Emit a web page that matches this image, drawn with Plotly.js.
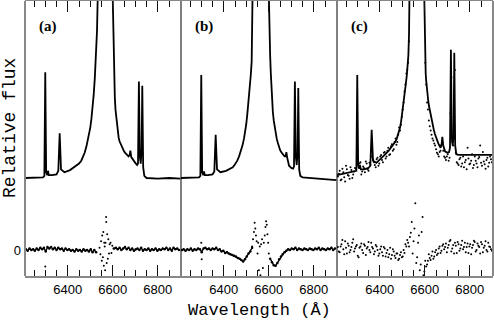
<!DOCTYPE html>
<html>
<head>
<meta charset="utf-8">
<script src="https://cdn.plot.ly/plotly-3.0.1.min.js"></script>
<style>body{margin:0;background:#fff}#plot{width:494px;height:321px}</style>
</head>
<body>
<div id="plot"></div>
<script>
// model spectrum grid (Angstrom) and fitted flux for each panel
let modelWave = [6210,6250,6290,6296,6300,6304,6309,6312,6316,6330,
  6350,6358,6364,6370,6385,6410,6425,6440,6450,6460,
  6468,6475,6483,6490,6495,6500,6505,6510,6515,6520,
  6524,6527,6530,6533,6545,6563,6583,6597,6600,6602,
  6604,6606,6609,6612,6615,6618,6622,6626,6630,6635,
  6640,6645,6650,6655,6660,6670,6675,6678,6682,6690,
  6700,6708,6712,6716,6720,6724,6728,6731,6735,6740,
  6750,6800,6850,6900]
let fluxA = [1.0,1.0,1.01,1.03,2.47,1.08,1.04,1.1,1.04,1.04,
  1.05,1.1,1.62,1.12,1.08,1.11,1.14,1.17,1.2,1.24,
  1.29,1.35,1.44,1.53,1.6,1.7,1.82,1.97,2.15,2.38,
  2.6,2.8,3.05,3.5,6,12,6,3.75,3.3,3.0,
  2.78,2.45,2.12,1.95,1.84,1.74,1.64,1.56,1.51,1.47,
  1.43,1.4,1.37,1.35,1.33,1.3,1.32,1.38,1.29,1.25,
  1.21,1.18,1.2,2.34,1.3,1.2,1.4,2.28,1.15,1.03,
  1.0,0.99,1.0,0.99]
let fluxB = [1.0,1.0,1.01,1.03,2.43,1.08,1.04,1.09,1.04,1.04,
  1.05,1.09,1.6,1.12,1.08,1.1,1.12,1.15,1.19,1.24,
  1.3,1.36,1.45,1.55,1.64,1.75,1.9,2.05,2.23,2.43,
  2.62,2.92,3.2,3.6,6,12,6,3.8,3.35,3.1,
  2.92,2.7,2.45,2.22,2.05,1.92,1.8,1.71,1.63,1.55,
  1.49,1.43,1.39,1.36,1.34,1.3,1.3,1.36,1.28,1.17,
  1.14,1.13,1.16,2.34,1.3,1.18,1.35,2.25,1.12,1.03,
  1.01,1.0,0.99,0.97]
let fluxC = [1.04,1.07,1.09,1.1,2.43,1.18,1.13,1.18,1.12,1.12,
  1.14,1.17,1.67,1.24,1.21,1.28,1.33,1.38,1.42,1.46,
  1.5,1.54,1.61,1.7,1.79,1.9,2.02,2.15,2.29,2.42,
  2.55,2.7,3.0,3.4,6,12,6,3.5,2.78,2.6,
  2.45,2.36,2.22,2.14,2.08,2.01,1.94,1.86,1.8,1.73,
  1.67,1.61,1.56,1.52,1.48,1.42,1.48,1.57,1.45,1.37,
  1.35,1.36,1.42,2.78,1.55,1.45,1.6,2.74,1.45,1.33,
  1.32,1.32,1.32,1.32]

// observed points / residuals
let resWave = [6214,6222,6230,6238,6246,6254,6262,6270,6278,6286,
  6294,6302,6310,6318,6326,6334,6342,6350,6358,6366,
  6374,6382,6390,6398,6406,6414,6422,6430,6438,6446,
  6454,6462,6470,6478,6486,6494,6502,6510,6518,6526,
  6534,6542,6550,6558,6566,6574,6582,6590,6598,6606,
  6614,6622,6630,6638,6646,6654,6662,6670,6678,6686,
  6694,6702,6710,6718,6726,6734,6742,6750,6758,6766,
  6774,6782,6790,6798,6806,6814,6822,6830,6838,6846,
  6854,6862,6870,6878,6886,6894]
let resWave2 = [6218,6226,6234,6242,6250,6258,6266,6274,6282,6290,
  6298,6306,6314,6322,6330,6338,6346,6354,6362,6370,
  6378,6386,6394,6402,6410,6418,6426,6434,6442,6450,
  6458,6466,6474,6482,6490,6498,6506,6514,6522,6530,
  6538,6546,6554,6562,6570,6578,6586,6594,6602,6610,
  6618,6626,6634,6642,6650,6658,6666,6674,6682,6690,
  6698,6706,6714,6722,6730,6738,6746,6754,6762,6770,
  6778,6786,6794,6802,6810,6818,6826,6834,6842,6850,
  6858,6866,6874,6882,6890,6898]

let resA = [0.01,-0.01,0.02,0.0,0.01,-0.01,0.02,0.0,0.03,0.01,
  0.03,-0.02,0.04,0.02,0.04,0.01,0.03,0.0,0.03,0.01,
  0.02,-0.01,0.02,0.0,0.01,-0.01,0.0,-0.02,0.01,-0.01,
  0.0,-0.02,0.01,-0.01,0.0,-0.02,0.01,-0.03,0.0,-0.03,
  null,null,null,null,null,null,null,null,null,0.02,
  0.03,0.01,0.03,0.0,0.02,0.04,0.01,0.03,0.0,0.02,
  -0.01,0.01,0.02,0.0,0.03,-0.01,0.01,0.0,0.02,-0.01,
  0.01,0.0,0.02,-0.01,0.01,0.0,0.02,0.01,0.03,0.0,
  0.02,-0.01,0.03,0.01,0.02,0.0]
let resB = [0.0,0.01,-0.01,0.01,0.0,0.02,-0.01,0.01,0.0,0.02,
  0.01,-0.03,0.02,0.03,0.01,0.02,0.0,0.02,0.01,0.03,
  0.0,0.01,-0.02,-0.01,-0.04,-0.03,-0.05,-0.06,-0.07,-0.08,
  -0.09,-0.11,-0.12,-0.14,-0.16,-0.13,-0.09,-0.05,-0.02,0.03,
  null,null,null,null,null,null,null,null,null,-0.12,
  -0.17,-0.21,-0.22,-0.18,-0.13,-0.09,-0.06,-0.03,-0.01,0.01,
  0.0,0.02,0.01,0.03,0.0,0.02,0.01,0.0,0.02,0.01,
  0.0,0.02,0.01,0.0,0.02,0.01,0.03,0.0,0.02,0.01,
  0.0,0.02,0.01,0.03,0.0,0.02]
let scatWaveA = [6300,6541,6545,6548,6551,6553,6556,6558,6560,6562,
  6564,6566,6568,6570,6571,6573,6575,6578,6580,6583,
  6586,6590,6594,6598,6603]
let scatResA = [-0.23,0.03,-0.06,0.12,-0.15,0.2,-0.1,0.25,-0.22,0.1,
  0.05,-0.28,0.1,0.46,0.39,-0.18,0.22,-0.12,0.15,-0.05,
  0.08,0.1,-0.04,0.06,0.02]
let scatWaveB = [6300,6302,6526,6530,6534,6537,6540,6543,6546,6550,
  6553,6556,6560,6563,6566,6570,6574,6578,6582,6585,
  6588,6591,6594,6597,6600]
let scatResB = [0.1,-0.13,0.05,0.15,0.25,0.38,0.3,0.2,0.12,-0.05,
  0.1,-0.28,0.05,-0.35,0.08,0.15,-0.25,0.1,0.2,0.32,
  0.4,0.35,0.22,0.1,-0.05]

let resC = [0.04,-0.03,0.08,0.01,0.12,-0.05,0.06,0.0,0.1,-0.02,
  0.05,-0.08,0.03,0.09,-0.04,0.06,0.02,0.11,-0.03,0.04,
  -0.06,0.07,0.0,-0.05,0.05,-0.08,0.02,-0.04,-0.1,0.03,
  -0.07,-0.02,-0.11,-0.05,-0.12,-0.03,-0.09,-0.04,0.05,0.1,
  0.18,0.39,0.12,0.65,-0.1,0.2,-0.2,0.46,-0.3,-0.23,
  -0.15,-0.11,-0.08,-0.12,-0.03,-0.07,0.02,-0.04,0.06,0.01,
  0.09,0.03,0.12,-0.02,0.07,0.1,-0.04,0.08,0.02,0.13,
  0.04,-0.03,0.09,0.05,-0.06,0.07,0.11,0.0,0.06,-0.05,
  0.08,0.03,0.12,-0.02,0.05,0.01]
let resC2 = [-0.02,0.05,0.14,-0.06,0.03,0.09,-0.03,0.04,0.15,0.02,
  0.07,-0.1,0.05,0.0,0.08,-0.07,0.04,0.0,0.1,0.02,
  -0.02,0.05,-0.08,0.01,-0.03,0.04,-0.09,0.0,-0.06,-0.12,
  0.01,-0.08,-0.05,-0.14,-0.07,-0.1,0.0,0.08,0.14,0.05,
  0.24,-0.05,0.3,-0.18,0.1,-0.28,0.25,-0.35,-0.15,-0.2,
  -0.06,-0.14,-0.02,-0.09,0.0,-0.05,0.05,-0.01,0.08,0.04,
  -0.03,0.07,0.14,0.02,-0.05,0.06,0.11,-0.01,0.07,0.01,
  0.1,0.04,-0.04,0.08,0.03,0.13,-0.02,0.09,0.04,0.11,
  -0.03,0.06,0.0,0.1,0.04,-0.01]
let obsC = [1.02,1.1,0.98,1.08,0.95,1.12,1.03,1.15,1.0,1.09,
  1.13,1.4,1.2,1.05,1.16,1.08,1.2,1.1,1.18,1.45,
  1.22,1.15,1.28,1.2,1.32,1.22,1.36,1.3,1.42,1.33,
  1.47,1.4,1.55,1.5,1.7,1.74,1.95,2.2,2.45,2.6,
  null,null,null,null,null,null,null,null,null,2.3,
  1.95,1.72,1.6,1.52,1.45,1.35,1.3,1.38,1.5,1.3,
  1.25,1.33,1.28,2.4,1.45,2.5,1.22,1.18,1.28,1.2,
  1.15,1.25,1.42,1.19,1.24,1.14,1.3,1.2,1.27,1.45,
  1.17,1.23,1.13,1.28,1.21,1.26]
let obsC2 = [1.06,0.97,1.13,1.01,1.17,1.04,0.99,1.11,1.05,1.14,
  1.3,1.15,1.22,1.09,1.14,1.23,1.12,1.21,1.3,1.26,
  1.18,1.26,1.17,1.3,1.25,1.35,1.27,1.38,1.32,1.44,
  1.38,1.5,1.46,1.6,1.66,1.85,2.05,2.3,2.5,2.9,
  null,null,null,null,null,null,null,null,2.6,2.05,
  1.8,1.66,1.55,1.48,1.4,1.33,1.36,1.45,1.38,1.28,
  1.3,1.24,1.9,1.5,2.2,1.35,1.2,1.26,1.16,1.3,
  1.22,1.12,1.27,1.2,1.33,1.18,1.24,1.15,1.29,1.21,
  1.36,1.19,1.25,1.16,1.3,1.22]

let panelLabels = ['(a)', '(b)', '(c)']

function line(x, y, ax, w){
  return {x: x, y: y, xaxis: ax, yaxis: 'y', type: 'scatter', mode: 'lines',
    line: {color: '#000', width: w}, connectgaps: false, hoverinfo: 'skip'}
}
function noisy(x, y, ax){
  return {x: x, y: y, xaxis: ax, yaxis: 'y', type: 'scatter', mode: 'lines+markers',
    line: {color: '#000', width: 1.4}, marker: {color: '#000', size: 2.5},
    connectgaps: false, hoverinfo: 'skip'}
}
function dots(x, y, ax, s){
  return {x: x, y: y, xaxis: ax, yaxis: 'y', type: 'scatter', mode: 'markers',
    marker: {color: '#000', size: s}, hoverinfo: 'skip'}
}

let data = [
  line(modelWave, fluxA, 'x', 1.8),
  noisy(resWave, resA, 'x'),
  dots(scatWaveA, scatResA, 'x', 2),
  line(modelWave, fluxB, 'x2', 1.8),
  noisy(resWave, resB, 'x2'),
  dots(scatWaveB, scatResB, 'x2', 2),
  dots(resWave, obsC, 'x3', 2),
  dots(resWave2, obsC2, 'x3', 2),
  line(modelWave, fluxC, 'x3', 1.8),
  dots(resWave, resC, 'x3', 2),
  dots(resWave2, resC2, 'x3', 2)
]

function xax(dom){
  return {
    domain: dom, range: [6210, 6903], anchor: 'y',
    tickmode: 'linear', tick0: 6400, dtick: 200,
    ticks: 'inside', ticklen: 11, tickwidth: 1, tickcolor: '#111',
    minor: {dtick: 50, tick0: 6400, ticks: 'inside', ticklen: 6, tickwidth: 1, tickcolor: '#111'},
    showline: true, linecolor: '#888', linewidth: 2, mirror: 'ticks',
    showgrid: false, zeroline: false,
    tickfont: {family: 'Liberation Sans, Arial, sans-serif', size: 13, color: '#000'}
  }
}

let annotations = panelLabels.map((t, i) => ({
  text: '<b>' + t + '</b>', xref: (i == 0 ? 'x' : 'x' + (i + 1)) + ' domain', yref: 'paper',
  x: 0.147, y: 0.909, showarrow: false, xanchor: 'center', yanchor: 'middle',
  font: {family: 'Liberation Serif, serif', size: 15, color: '#000'}
}))
annotations.push({text: 'Relative flux', textangle: -90, xref: 'paper', yref: 'paper',
  x: -0.032, y: 0.538, showarrow: false, xanchor: 'center', yanchor: 'middle',
  font: {family: 'Liberation Mono, monospace', size: 18, color: '#000'}})
annotations.push({text: 'Wavelength (Å)', xref: 'paper', yref: 'paper',
  x: 0.5, y: -0.124, showarrow: false, xanchor: 'center', yanchor: 'middle',
  font: {family: 'Liberation Mono, monospace', size: 17, color: '#000'}})

let layout = {
  width: 494, height: 321,
  margin: {l: 25, r: 1, t: 1, b: 45},
  paper_bgcolor: '#fff', plot_bgcolor: '#fff',
  showlegend: false,
  xaxis: xax([0, 1/3]),
  xaxis2: xax([1/3, 2/3]),
  xaxis3: xax([2/3, 1]),
  yaxis: {
    domain: [0, 1], range: [-0.361, 3.458], anchor: 'x',
    tickmode: 'array', tickvals: [0], ticktext: ['0'], ticks: '',
    ticklabelstandoff: 3,
    showline: false, showgrid: false, zeroline: false,
    tickfont: {family: 'Liberation Sans, Arial, sans-serif', size: 13, color: '#000'}
  },
  shapes: [
    {type: 'line', xref: 'paper', yref: 'paper', x0: 0, x1: 0, y0: 0, y1: 1, line: {color: '#888', width: 2}},
    {type: 'line', xref: 'paper', yref: 'paper', x0: 1, x1: 1, y0: 0, y1: 1, line: {color: '#888', width: 2}},
    {type: 'line', xref: 'paper', yref: 'paper', x0: 1/3, x1: 1/3, y0: 0, y1: 1, line: {color: '#000', width: 1}},
    {type: 'line', xref: 'paper', yref: 'paper', x0: 2/3, x1: 2/3, y0: 0, y1: 1, line: {color: '#000', width: 1}}
  ],
  annotations: annotations
}

Plotly.newPlot('plot', data, layout, {staticPlot: true})
</script>
</body>
</html>
